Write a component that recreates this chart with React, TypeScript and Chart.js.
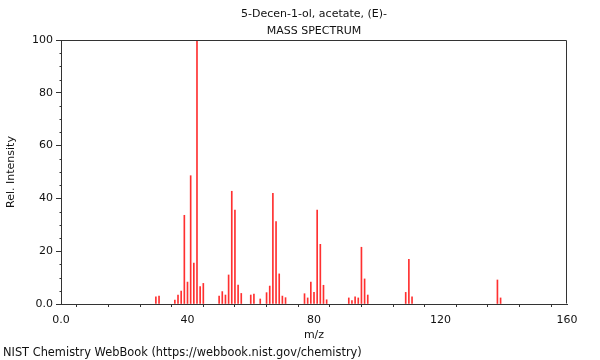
import React, { useEffect, useRef } from "react";
import { Chart, registerables } from "chart.js";

Chart.register(...registerables);

const titleLines = ["5-Decen-1-ol, acetate, (E)-", "MASS SPECTRUM"];
const footer = "NIST Chemistry WebBook (https://webbook.nist.gov/chemistry)";
const xTitle = "m/z";
const yTitle = "Rel. Intensity";

const mz = [30, 31, 36, 37, 38, 39, 40, 41, 42, 43, 44, 45, 50, 51, 52, 53, 54, 55, 56, 57, 60, 61, 63, 65, 66, 67, 68, 69, 70, 71, 77, 78, 79, 80, 81, 82, 83, 84, 91, 92, 93, 94, 95, 96, 97, 109, 110, 111, 138, 139];
const intensity = [2.7, 3.0, 1.5, 3.4, 4.9, 33.6, 8.3, 48.6, 15.5, 100, 6.6, 7.8, 3.0, 4.7, 3.4, 11.0, 42.7, 35.6, 7.2, 4.0, 3.4, 3.8, 1.9, 4.3, 6.8, 41.9, 31.2, 11.4, 3.0, 2.4, 3.9, 2.3, 8.3, 4.4, 35.6, 22.6, 7.1, 1.6, 2.3, 1.3, 2.7, 2.3, 21.5, 9.5, 3.4, 4.4, 16.9, 2.7, 9.1, 2.3];

const xMin = 0;
const xMax = 160;
const xMajorStep = 40;
const xMinorStep = 10;
const yMin = 0;
const yMax = 100;
const yMajorStep = 20;
const yMinorStep = 5;

const FONT = "'DejaVu Sans', sans-serif";
const AXIS = "#333333";
const TEXT = "#111111";
const BAR = "#ff3030";

const frameAndMinor = {
  id: "frameAndMinor",
  afterDraw(chart: any) {
    const { ctx, chartArea } = chart;
    const ys = chart.scales.y;
    ctx.save();
    ctx.strokeStyle = AXIS;
    ctx.lineWidth = 1;
    ctx.beginPath();
    const top = Math.round(chartArea.top) + 0.5;
    const right = Math.round(chartArea.right) - 0.5;
    const left = Math.round(chartArea.left) + 0.5;
    const bottom = Math.round(chartArea.bottom) - 0.5;
    ctx.moveTo(left, top);
    ctx.lineTo(right, top);
    ctx.lineTo(right, bottom);
    for (let v = yMin; v <= yMax; v += yMinorStep) {
      if (v % yMajorStep === 0) continue;
      const py = Math.round(ys.getPixelForValue(v)) + 0.5;
      ctx.moveTo(left - 2, py);
      ctx.lineTo(left, py);
    }
    ctx.stroke();
    ctx.restore();
  },
};

export default function App() {
  const ref = useRef<HTMLCanvasElement>(null);
  useEffect(() => {
    if (!ref.current) return;
    const chart = new Chart(ref.current, {
      type: "bar",
      data: {
        datasets: [
          {
            data: mz.map((m, i) => ({ x: m, y: intensity[i] })),
            backgroundColor: BAR,
            borderWidth: 0,
            barThickness: 1,
          },
        ],
      },
      options: {
        animation: false,
        responsive: false,
        maintainAspectRatio: false,
        layout: { padding: { left: 3, right: 33, top: 0, bottom: 0 } },
        plugins: {
          legend: { display: false },
          tooltip: { enabled: false },
          title: {
            display: true,
            text: titleLines,
            fullSize: false,
            color: TEXT,
            font: { family: FONT, size: 11, weight: "normal", lineHeight: 17 / 11 },
            padding: { top: 6, bottom: 0 },
          },
          subtitle: {
            display: true,
            text: footer,
            position: "bottom",
            align: "start",
            fullSize: true,
            color: TEXT,
            font: { family: FONT, size: 11.4, weight: "normal", lineHeight: 12 / 11.4 },
            padding: { top: 1, bottom: 1 },
          },
        },
        scales: {
          x: {
            type: "linear",
            min: xMin,
            max: xMax,
            offset: false,
            afterFit: (s: any) => {
              s.height = 42;
            },
            ticks: {
              stepSize: xMinorStep,
              autoSkip: false,
              maxRotation: 0,
              color: TEXT,
              padding: 7,
              font: { family: FONT, size: 11 },
              callback: (v: any) => (v % xMajorStep === 0 ? (v === 0 ? "0.0" : String(v)) : ""),
            },
            grid: { display: true, drawOnChartArea: false, drawTicks: true, tickLength: 3, color: AXIS },
            border: { display: true, color: AXIS },
            title: {
              display: true,
              text: xTitle,
              color: TEXT,
              font: { family: FONT, size: 11 },
              padding: { top: 0, bottom: 4 },
            },
          },
          y: {
            min: yMin,
            max: yMax,
            afterFit: (s: any) => {
              s.width = 58;
            },
            ticks: {
              stepSize: yMajorStep,
              color: TEXT,
              padding: 3,
              font: { family: FONT, size: 11 },
              callback: (v: any) => (v === 0 ? "0.0" : String(v)),
            },
            grid: { display: true, drawOnChartArea: false, drawTicks: true, tickLength: 5, color: AXIS },
            border: { display: true, color: AXIS },
            title: {
              display: true,
              text: yTitle,
              color: TEXT,
              font: { family: FONT, size: 11 },
              padding: { top: 2, bottom: 0 },
            },
          },
        },
      },
      plugins: [frameAndMinor],
    });
    return () => chart.destroy();
  }, []);
  return (
    <div style={{ position: "fixed", left: 0, top: 0, width: 600, height: 360, background: "#fff" }}>
      <canvas ref={ref} width={600} height={360} style={{ display: "block", width: 600, height: 360 }} />
    </div>
  );
}
